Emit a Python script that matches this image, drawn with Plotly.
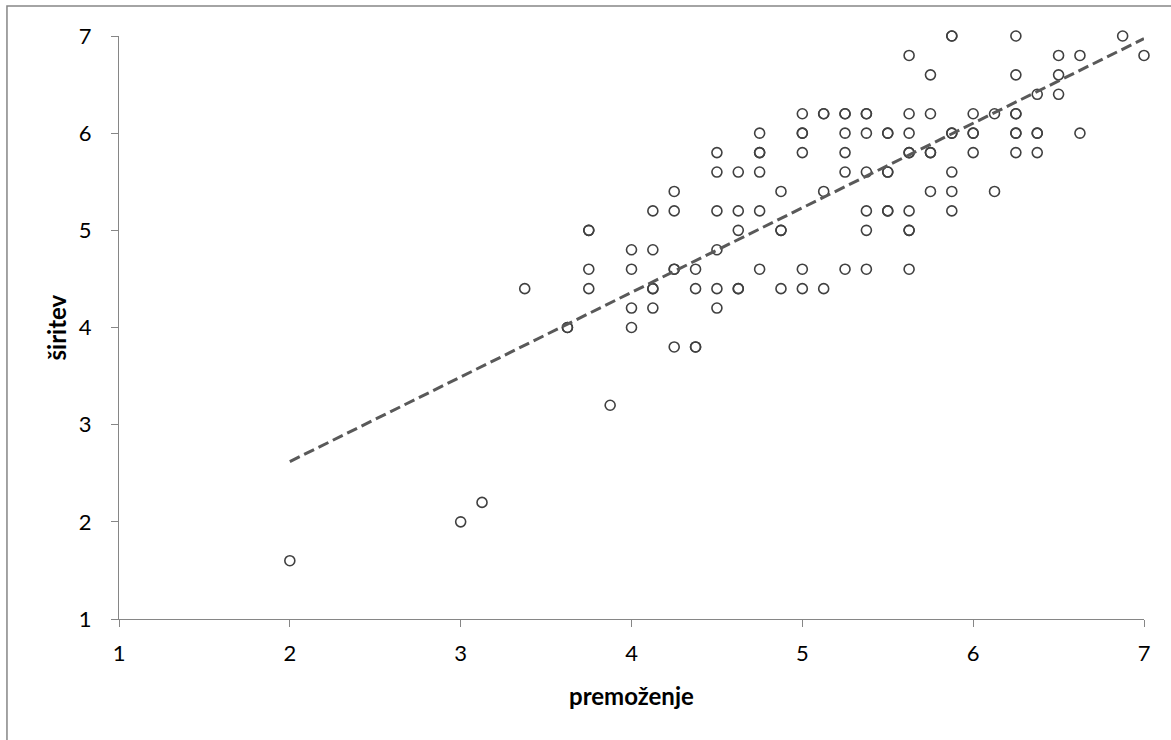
import numpy as np
import plotly.graph_objects as go

# premoženje (x) and širitev (y) values; repeated pairs are overlapping points
x_vals = [
    2, 3, 3.125, 3.375, 3.625, 3.625,
    3.75, 3.75, 3.75, 3.75, 3.875,
    4.0, 4.0, 4.0, 4.0,
    4.125, 4.125, 4.125, 4.125, 4.125,
    4.25, 4.25, 4.25, 4.25, 4.25,
    4.375, 4.375, 4.375, 4.375,
    4.5, 4.5, 4.5, 4.5, 4.5, 4.5,
    4.625, 4.625, 4.625, 4.625, 4.625,
    4.75, 4.75, 4.75, 4.75, 4.75, 4.75,
    4.875, 4.875, 4.875, 4.875,
    5.0, 5.0, 5.0, 5.0, 5.0, 5.0,
    5.125, 5.125, 5.125, 5.125,
    5.25, 5.25, 5.25, 5.25, 5.25, 5.25,
    5.375, 5.375, 5.375, 5.375, 5.375, 5.375, 5.375,
    5.5, 5.5, 5.5, 5.5, 5.5, 5.5,
    5.625, 5.625, 5.625, 5.625, 5.625, 5.625, 5.625, 5.625, 5.625,
    5.75, 5.75, 5.75, 5.75, 5.75,
    5.875, 5.875, 5.875, 5.875, 5.875, 5.875, 5.875,
    6.0, 6.0, 6.0, 6.0,
    6.125, 6.125,
    6.25, 6.25, 6.25, 6.25, 6.25, 6.25, 6.25,
    6.375, 6.375, 6.375, 6.375,
    6.5, 6.5, 6.5,
    6.625, 6.625,
    6.875, 7.0,
]
y_vals = [
    1.6, 2.0, 2.2, 4.4, 4.0, 4.0,
    5.0, 5.0, 4.6, 4.4, 3.2,
    4.8, 4.6, 4.2, 4.0,
    5.2, 4.8, 4.4, 4.4, 4.2,
    5.4, 5.2, 4.6, 4.6, 3.8,
    4.6, 4.4, 3.8, 3.8,
    5.8, 5.6, 5.2, 4.8, 4.4, 4.2,
    5.6, 5.2, 5.0, 4.4, 4.4,
    6.0, 5.8, 5.8, 5.6, 5.2, 4.6,
    5.4, 5.0, 5.0, 4.4,
    6.2, 6.0, 6.0, 5.8, 4.6, 4.4,
    6.2, 6.2, 5.4, 4.4,
    6.2, 6.2, 6.0, 5.8, 5.6, 4.6,
    6.2, 6.2, 6.0, 5.6, 5.2, 5.0, 4.6,
    6.0, 6.0, 5.6, 5.6, 5.2, 5.2,
    6.8, 6.2, 6.0, 5.8, 5.8, 5.2, 5.0, 5.0, 4.6,
    6.6, 6.2, 5.8, 5.8, 5.4,
    7.0, 7.0, 6.0, 6.0, 5.6, 5.4, 5.2,
    6.2, 6.0, 6.0, 5.8,
    6.2, 5.4,
    7.0, 6.6, 6.2, 6.2, 6.0, 6.0, 5.8,
    6.4, 6.0, 6.0, 5.8,
    6.8, 6.6, 6.4,
    6.8, 6.0,
    7.0, 6.8,
]
x_ticks = [1, 2, 3, 4, 5, 6, 7]
y_ticks = [1, 2, 3, 4, 5, 6, 7]
x_title = "premoženje"
y_title = "širitev"

xa = np.array(x_vals, dtype=float)
ya = np.array(y_vals, dtype=float)
slope, intercept = np.polyfit(xa, ya, 1)
trend_x = [xa.min(), xa.max()]
trend_y = [slope * v + intercept for v in trend_x]

fig = go.Figure()
fig.add_trace(go.Scatter(
    x=x_vals, y=y_vals, mode="markers",
    marker=dict(symbol="circle-open", size=10, color="#404040",
                line=dict(width=1.6, color="#404040")),
    cliponaxis=False, showlegend=False,
))
fig.add_trace(go.Scatter(
    x=trend_x, y=trend_y, mode="lines",
    line=dict(color="#595959", width=3, dash="11px,5px"),
    cliponaxis=False, showlegend=False,
))

axis_common = dict(
    showgrid=False, zeroline=False, showline=True, linecolor="#868686",
    linewidth=1, ticks="outside", ticklen=7, tickcolor="#868686", tickwidth=1,
    tickfont=dict(family="Lato", size=22, color="#000000"),
)
fig.update_xaxes(range=[1, 7], tickvals=x_ticks, ticklabelstandoff=8, **axis_common)
fig.update_yaxes(range=[1, 7], tickvals=y_ticks, ticklabelstandoff=15, **axis_common)

fig.update_layout(
    width=1171, height=740,
    margin=dict(l=119, r=27, t=36, b=121),
    paper_bgcolor="white", plot_bgcolor="white",
    annotations=[
        dict(text=x_title, xref="paper", yref="paper", x=0.5, y=-0.1304,
             xanchor="center", yanchor="middle", showarrow=False,
             font=dict(family="Lato", size=24, color="#000000", weight="bold")),
        dict(text=y_title, xref="paper", yref="paper", x=-0.0605, y=0.5,
             xanchor="center", yanchor="middle", showarrow=False, textangle=-90,
             font=dict(family="Lato", size=24, color="#000000", weight="bold")),
    ],
    shapes=[
        dict(type="rect", xref="paper", yref="paper",
             x0=-0.1093, x1=1.2, y0=-0.5, y1=1.0515,
             line=dict(color="#868686", width=1.5), fillcolor="rgba(0,0,0,0)",
             layer="below"),
    ],
)

fig.write_html("out.html", config={"displayModeBar": False},
               post_script="document.body.style.margin='0px';")
